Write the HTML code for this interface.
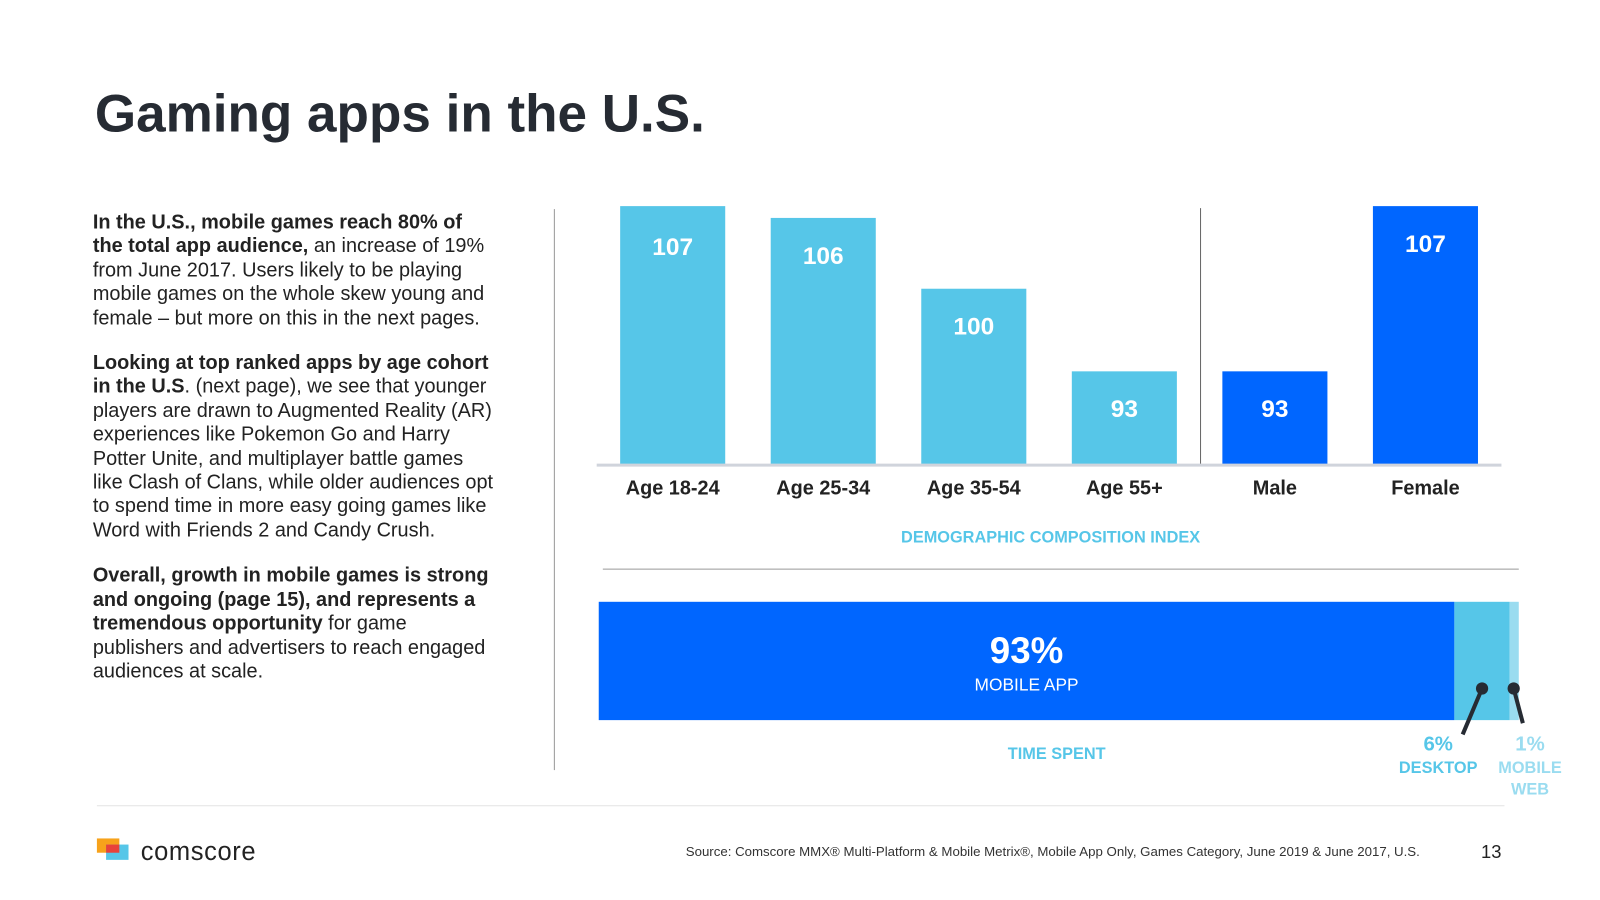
<!DOCTYPE html>
<html><head><meta charset="utf-8"><style>
body{margin:0;width:1600px;height:900px;background:#fff;font-family:"Liberation Sans",Arial,sans-serif;position:relative;overflow:hidden;color:#222}
#wrap{position:absolute;left:0;top:0;width:1560px;height:878px;transform:scale(1.02);transform-origin:0 0}
.abs{position:absolute}
h1{position:absolute;left:93px;top:82px;margin:0;font-size:52px;font-weight:bold;color:#262b33}
.txt{left:91px;width:393px;font-size:19.5px;line-height:23.4px;color:#222}
.txt p{margin:0 0 21px}
</style></head><body>
<div id="wrap">
<h1>Gaming apps in the U.S.</h1>
<div class="abs txt" style="top:207px">
<p><b>In the U.S., mobile games reach 80% of the total app audience,</b> an increase of 19% from June 2017. Users likely to be playing mobile games on the whole skew young and female – but more on this in the next pages.</p>
<p><b>Looking at top ranked apps by age cohort in the U.S</b>. (next page), we see that younger players are drawn to Augmented Reality (AR) experiences like Pokemon Go and Harry Potter Unite, and multiplayer battle games like Clash of Clans, while older audiences opt to spend time in more easy going games like Word with Friends 2 and Candy Crush.</p>
<p><b>Overall, growth in mobile games is strong and ongoing (page 15), and represents a tremendous opportunity</b> for game publishers and advertisers to reach engaged audiences at scale.</p>
</div>
<div class="abs" style="left:543px;top:205px;width:1px;height:550px;background:#999"></div>
<svg class="abs" style="left:0;top:0" width="1560" height="878">
<g id="bars"></g>
<line x1="1177" y1="204" x2="1177" y2="455" stroke="#666" stroke-width="1"/>
<line x1="585" y1="456" x2="1472" y2="456" stroke="#d0d4dc" stroke-width="3"/>
<text x="1030" y="532" text-anchor="middle" font-size="16" font-weight="bold" fill="#56c6e8">DEMOGRAPHIC COMPOSITION INDEX</text>
<line x1="591" y1="558" x2="1489" y2="558" stroke="#999" stroke-width="1"/>
<g id="stack"></g>
<text x="1036" y="744" text-anchor="middle" font-size="16" font-weight="bold" fill="#56c6e8">TIME SPENT</text>
<line x1="1453" y1="675" x2="1434" y2="720" stroke="#262b33" stroke-width="4"/>
<circle cx="1453" cy="675" r="6" fill="#262b33"/>
<line x1="1484" y1="675" x2="1493" y2="709" stroke="#262b33" stroke-width="4"/>
<circle cx="1484" cy="675" r="6" fill="#262b33"/>
<text x="1410" y="736" text-anchor="middle" font-size="20" font-weight="bold" fill="#56c6e8">6%</text>
<text x="1410" y="758" text-anchor="middle" font-size="16" font-weight="bold" fill="#56c6e8">DESKTOP</text>
<text x="1500" y="736" text-anchor="middle" font-size="20" font-weight="bold" fill="#9adcf0">1%</text>
<text x="1500" y="758" text-anchor="middle" font-size="16" font-weight="bold" fill="#9adcf0">MOBILE</text>
<text x="1500" y="779" text-anchor="middle" font-size="16" font-weight="bold" fill="#9adcf0">WEB</text>
<line x1="95" y1="790" x2="1475" y2="790" stroke="#e4e4e4" stroke-width="1"/>
<g>
<rect x="95" y="822" width="22" height="14" fill="#f7a21b"/>
<rect x="104" y="828" width="22" height="15" fill="#56c6e8"/>
<rect x="104" y="828" width="13" height="8" fill="#e8423a"/>
<text x="138" y="843" font-size="25" letter-spacing="0.6" fill="#222">comscore</text>
</g>
<text x="1392" y="839" text-anchor="end" font-size="13" fill="#333">Source: Comscore MMX® Multi-Platform &amp; Mobile Metrix®, Mobile App Only, Games Category, June 2019 &amp; June 2017, U.S.</text>
<text x="1472" y="841" text-anchor="end" font-size="18" fill="#222">13</text>
</svg>
</div>
<script>
const categories=["Age 18-24","Age 25-34","Age 35-54","Age 55+","Male","Female"];
const values=[107,106,100,93,93,107];
const colors=["#56c6e8","#56c6e8","#56c6e8","#56c6e8","#0066ff","#0066ff"];
const stackLabels=["MOBILE APP","DESKTOP","MOBILE WEB"];
const stackValues=[93,6,1];
const stackColors=["#0066ff","#56c6e8","#9adcf0"];
const NS="http://www.w3.org/2000/svg";
const base=455,vmin=85.14,scale=11.57;
function y(v){return base-(v-vmin)*scale;}
function x(i){return 608+i*147.6;}
const g=document.getElementById('bars');
categories.forEach((c,i)=>{
 const r=document.createElementNS(NS,'rect');
 r.setAttribute('x',x(i));r.setAttribute('y',y(values[i]));r.setAttribute('width',103);r.setAttribute('height',base-y(values[i]));r.setAttribute('fill',colors[i]);
 
 
 g.appendChild(r);
 const t=document.createElementNS(NS,'text');
 t.setAttribute('x',x(i)+51.5);t.setAttribute('y',y(values[i])+(i==0?48:45));t.setAttribute('text-anchor','middle');t.setAttribute('font-size','24');t.setAttribute('font-weight','bold');t.setAttribute('fill','#fff');
 t.textContent=values[i];
 
 
 g.appendChild(t);
 const l=document.createElementNS(NS,'text');
 l.setAttribute('x',x(i)+51.5);l.setAttribute('y',485);l.setAttribute('text-anchor','middle');l.setAttribute('font-size','19.5');l.setAttribute('font-weight','bold');l.setAttribute('fill','#222');
 l.textContent=c;
 
 
 g.appendChild(l);
});
const s=document.getElementById('stack');
const sx0=587,sw=902;let acc=0;
stackValues.forEach((v,i)=>{
 const r=document.createElementNS(NS,'rect');
 r.setAttribute('x',sx0+acc/100*sw);r.setAttribute('y',590);r.setAttribute('width',v/100*sw);r.setAttribute('height',116);r.setAttribute('fill',stackColors[i]);
 
 
 s.appendChild(r);acc+=v;
});
const t1=document.createElementNS(NS,'text');
t1.setAttribute('x',sx0+stackValues[0]/200*sw);t1.setAttribute('y',650);t1.setAttribute('text-anchor','middle');t1.setAttribute('font-size','36');t1.setAttribute('font-weight','bold');t1.setAttribute('fill','#fff');
t1.textContent=stackValues[0]+'%';


s.appendChild(t1);
const t2=document.createElementNS(NS,'text');
t2.setAttribute('x',sx0+stackValues[0]/200*sw);t2.setAttribute('y',677);t2.setAttribute('text-anchor','middle');t2.setAttribute('font-size','17');t2.setAttribute('fill','#fff');
t2.textContent=stackLabels[0];


s.appendChild(t2);
</script>
</body></html>
